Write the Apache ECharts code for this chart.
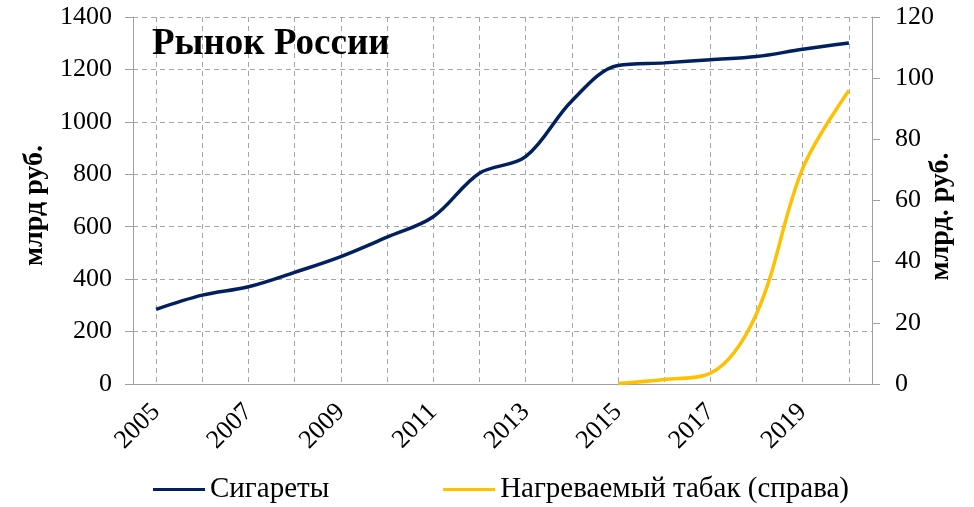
<!DOCTYPE html>
<html>
<head>
<meta charset="utf-8">
<style>
  html, body { margin: 0; padding: 0; background: #fff; }
  #chart { width: 974px; height: 507px; }
</style>
<script src="https://cdn.jsdelivr.net/npm/echarts@6/dist/echarts.min.js"></script>
</head>
<body>
<div id="chart"></div>
<script>
// годы
var years = ['2005', '2006', '2007', '2008', '2009', '2010', '2011', '2012',
  '2013', '2014', '2015', '2016', '2017', '2018', '2019', '2020'];
// сигареты, млрд руб. (левая ось)
var cigarettes = [285, 339, 371, 426, 486, 560, 638, 804, 867, 1080, 1215, 1225, 1237, 1249, 1277, 1301];
// нагреваемый табак, млрд руб. (правая ось)
var heated = [null, null, null, null, null, null, null, null, null, null, 0.2, 1.5, 3.5, 23, 70.5, 96];

var serif = 'Liberation Serif';
var axisGrey = '#a0a0a0';

function plain(v) { return String(v); }

var myChart = echarts.init(document.getElementById('chart'));
myChart.setOption({
  animation: false,
  textStyle: { fontFamily: serif },
  title: {
    text: 'Рынок России',
    left: 152,
    top: 26,
    padding: 0,
    textStyle: { fontFamily: serif, fontSize: 37, fontWeight: 'bold', color: '#000' }
  },
  legend: {
    left: 153,
    top: 475,
    padding: 0,
    itemWidth: 52,
    itemHeight: 3,
    itemGap: 114,
    icon: 'rect',
    textStyle: { fontFamily: serif, fontSize: 29, color: '#000' },
    data: ['Сигареты', 'Нагреваемый табак (справа)']
  },
  grid: { left: 133, right: 102, top: 17, bottom: 123, outerBoundsMode: 'none' },
  xAxis: {
    type: 'category',
    boundaryGap: true,
    data: years,
    axisLine: { show: true, lineStyle: { color: axisGrey, width: 1 } },
    axisTick: { show: false },
    axisLabel: {
      interval: 1,
      rotate: 45,
      margin: 24,
      fontFamily: serif,
      fontSize: 26,
      color: '#000'
    },
    splitLine: {
      show: true,
      interval: 0,
      alignWithLabel: true,
      lineStyle: { color: '#a6a6a6', type: [5, 4], width: 1 }
    }
  },
  yAxis: [{
    type: 'value',
    min: 0,
    max: 1400,
    interval: 200,
    name: 'млрд руб.',
    nameLocation: 'middle',
    nameRotate: 90,
    nameGap: 84,
    nameMoveOverlap: false,
    nameTextStyle: { fontFamily: serif, fontSize: 28, fontWeight: 'bold', color: '#000', padding: [0, 10, 0, 0] },
    axisLine: { show: true, lineStyle: { color: axisGrey, width: 1 } },
    axisTick: { show: true, length: 8, lineStyle: { color: axisGrey } },
    axisLabel: { margin: 21, fontFamily: serif, fontSize: 26, color: '#000', formatter: plain },
    splitLine: { show: true, lineStyle: { color: '#a6a6a6', type: [5, 4], width: 1 } }
  }, {
    type: 'value',
    min: 0,
    max: 120,
    interval: 20,
    position: 'right',
    name: 'млрд. руб.',
    nameLocation: 'middle',
    nameRotate: 90,
    nameGap: 55,
    nameMoveOverlap: false,
    nameTextStyle: { fontFamily: serif, fontSize: 28, fontWeight: 'bold', color: '#000', padding: [0, 32, 0, 0] },
    axisLine: { show: true, lineStyle: { color: axisGrey, width: 1 } },
    axisTick: { show: true, length: 8, lineStyle: { color: axisGrey } },
    axisLabel: { margin: 23, fontFamily: serif, fontSize: 26, color: '#000', formatter: plain },
    splitLine: { show: false }
  }],
  series: [{
    name: 'Сигареты',
    type: 'line',
    yAxisIndex: 0,
    smooth: 0.35,
    symbol: 'none',
    lineStyle: { color: '#002060', width: 3.5 },
    itemStyle: { color: '#002060' },
    data: cigarettes
  }, {
    name: 'Нагреваемый табак (справа)',
    type: 'line',
    yAxisIndex: 1,
    smooth: 0.35,
    symbol: 'none',
    lineStyle: { color: '#ffc000', width: 3.5 },
    itemStyle: { color: '#ffc000' },
    data: heated
  }]
});
</script>
</body>
</html>
